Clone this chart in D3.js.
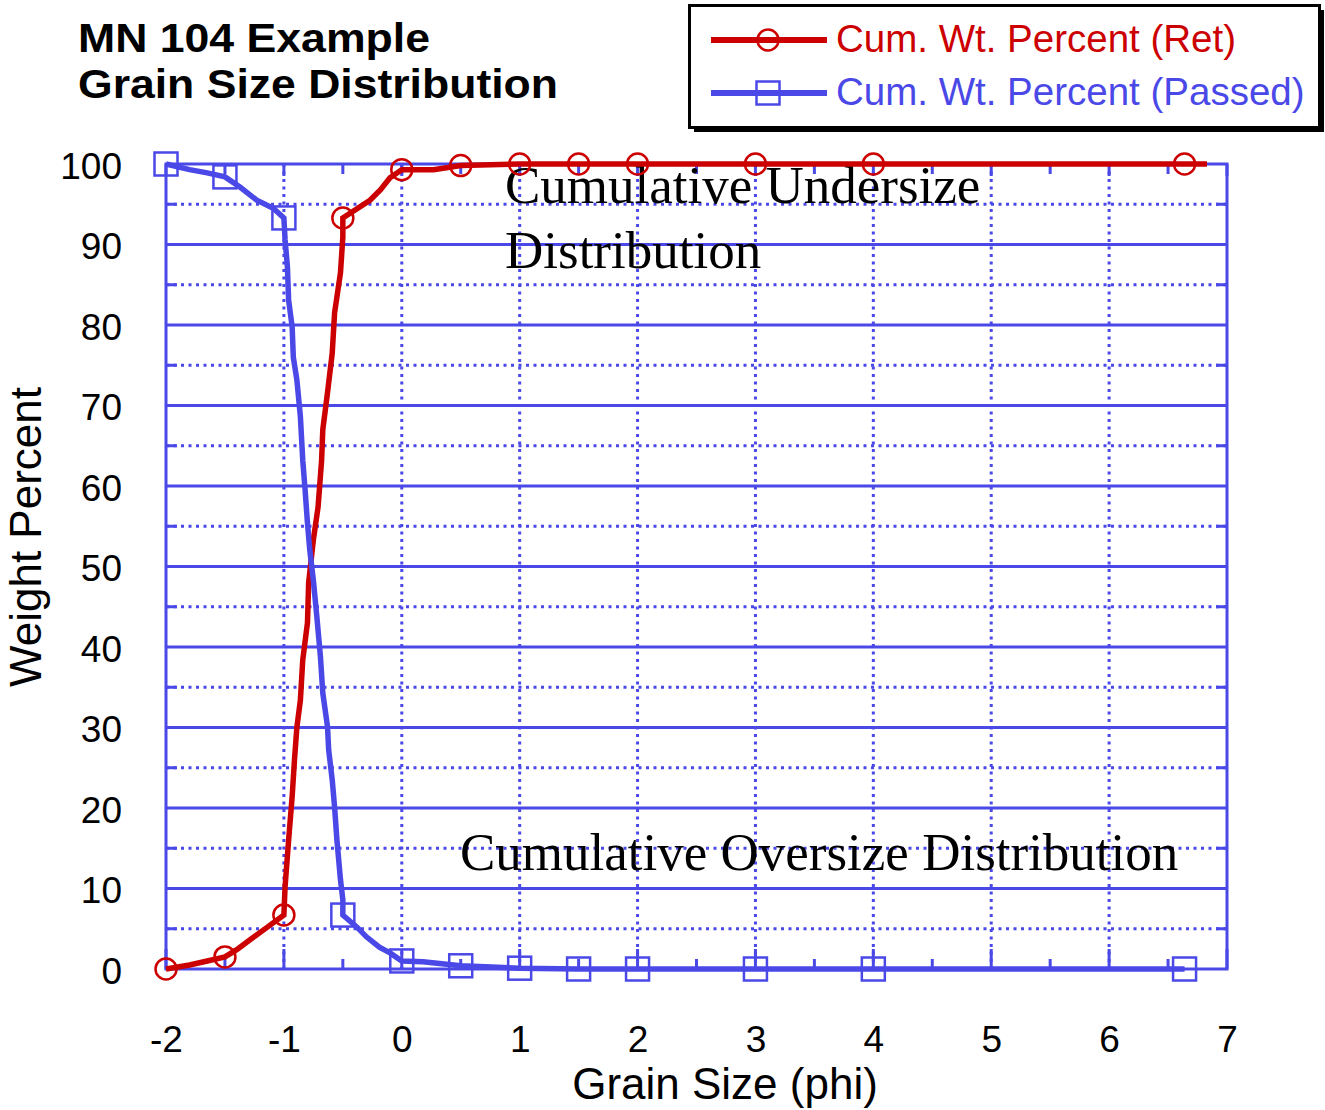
<!DOCTYPE html>
<html>
<head>
<meta charset="utf-8">
<script src="https://cdn.jsdelivr.net/npm/d3@7/dist/d3.min.js"></script>
<style>
  html, body { margin: 0; padding: 0; background: #ffffff; }
  svg { display: block; }
</style>
</head>
<body>
<script>
// ---------- data ----------
const xTicks = [-2, -1, 0, 1, 2, 3, 4, 5, 6, 7];
const xTickLabels = ["-2", "-1", "0", "1", "2", "3", "4", "5", "6", "7"];
const xHalfTicks = [-1.5, -0.5, 0.5, 1.5, 2.5, 3.5, 4.5, 5.5, 6.5];
const yTicks = [0, 10, 20, 30, 40, 50, 60, 70, 80, 90, 100];
const yTickLabels = ["0", "10", "20", "30", "40", "50", "60", "70", "80", "90", "100"];
const yMinorTicks = [5, 15, 25, 35, 45, 55, 65, 75, 85, 95];

// marker points (sieve sizes)
const markerPhi = [-2, -1.5, -1, -0.5, 0, 0.5, 1, 1.5, 2, 3, 4, 6.64];
const retMarkers = [0, 1.5, 6.7, 93.3, 99.3, 99.8, 100, 100, 100, 100, 100, 100];
const passMarkers = [100, 98.4, 93.3, 6.7, 1.0, 0.4, 0.1, 0, 0, 0, 0, 0];

// connecting line traces
const retLinePhi = [-2, -1.8, -1.65, -1.5, -1.4, -1.29, -1.14, -1.0, -0.99, -0.96, -0.93, -0.91, -0.89, -0.86, -0.84, -0.80, -0.79, -0.75, -0.71, -0.68, -0.67, -0.63, -0.59, -0.57, -0.52, -0.50, -0.5, -0.27, -0.18, -0.1, 0, 0.27, 0.5, 1, 1.5, 2, 3, 4, 6.64, 6.83];
const retLine    = [0, 0.5, 1.0, 1.5, 2.4, 3.6, 5.2, 6.7, 10.2, 16, 21.4, 26, 30, 33.4, 38.4, 43, 48, 53.3, 57.4, 63.2, 67, 71.6, 76.5, 81.5, 86.5, 90.9, 93.3, 95.5, 96.8, 98.3, 99.3, 99.3, 99.8, 100, 100, 100, 100, 100, 100, 100];

const passLinePhi = [-2, -1.8, -1.65, -1.5, -1.37, -1.23, -1.09, -1.0, -0.99, -0.97, -0.96, -0.93, -0.92, -0.89, -0.86, -0.84, -0.82, -0.80, -0.78, -0.75, -0.72, -0.69, -0.67, -0.63, -0.62, -0.59, -0.57, -0.55, -0.52, -0.50, -0.5, -0.38, -0.3, -0.19, -0.1, 0, 0.18, 0.5, 1, 1.5, 2, 3, 4, 6.64];
const passLine    = [100, 99.3, 98.9, 98.4, 97.1, 95.5, 94.5, 93.3, 90.6, 87.2, 83.1, 79.8, 76, 73.2, 68.6, 63.2, 59.5, 55.4, 52, 48.3, 43.7, 38.8, 34.3, 30.1, 27.2, 23.5, 20.1, 16, 11.1, 8.6, 6.7, 5.2, 4.0, 2.7, 2.0, 1.0, 0.9, 0.4, 0.1, 0, 0, 0, 0, 0];

const titleLines = ["MN 104 Example", "Grain Size Distribution"];
const legendLabels = ["Cum. Wt. Percent (Ret)", "Cum. Wt. Percent (Passed)"];
const xTitle = "Grain Size (phi)";
const yTitle = "Weight Percent";
const noteUnder = ["Cumulative Undersize", "Distribution"];
const noteOver = "Cumulative Oversize Distribution";

// ---------- styles ----------
const BLUE = "#4b48e8";
const RED = "#cc0000";
const SANS = "'Liberation Sans', Arial, Helvetica, sans-serif";
const SERIF = "'Liberation Serif', 'Times New Roman', serif";

const W = 1325, H = 1110;
const L = 166, R = 1227, T = 164, B = 969;

const svg = d3.select("body").append("svg").attr("width", W).attr("height", H);
svg.append("rect").attr("width", W).attr("height", H).attr("fill", "#fff");

const x = d3.scaleLinear().domain([-2, 7]).range([L, R]);
const y = d3.scaleLinear().domain([0, 100]).range([B, T]);

// ---------- grid ----------
const grid = svg.append("g");
grid.selectAll("line.hs").data(yTicks.filter(d => d > 0 && d < 100)).enter().append("line")
  .attr("x1", L).attr("x2", R).attr("y1", d => y(d)).attr("y2", d => y(d))
  .attr("stroke", BLUE).attr("stroke-width", 3);
grid.selectAll("line.hd").data(yMinorTicks).enter().append("line")
  .attr("x1", L).attr("x2", R).attr("y1", d => y(d)).attr("y2", d => y(d))
  .attr("stroke", BLUE).attr("stroke-width", 3).attr("stroke-dasharray", "3,4.5");
grid.selectAll("line.vd").data(xTicks.filter(d => d > -2 && d < 7)).enter().append("line")
  .attr("x1", d => x(d)).attr("x2", d => x(d)).attr("y1", T).attr("y2", B)
  .attr("stroke", BLUE).attr("stroke-width", 3).attr("stroke-dasharray", "3,4.5");

// ticks
const ticks = svg.append("g").attr("stroke", BLUE).attr("stroke-width", 3);
ticks.selectAll("line.bt").data(xTicks).enter().append("line")
  .attr("x1", d => x(d)).attr("x2", d => x(d)).attr("y1", B).attr("y2", B - 20);
ticks.selectAll("line.tt").data(xTicks).enter().append("line")
  .attr("x1", d => x(d)).attr("x2", d => x(d)).attr("y1", T).attr("y2", T + 12);
ticks.selectAll("line.bh").data(xHalfTicks).enter().append("line")
  .attr("x1", d => x(d)).attr("x2", d => x(d)).attr("y1", B).attr("y2", B - 10);
ticks.selectAll("line.th").data(xHalfTicks).enter().append("line")
  .attr("x1", d => x(d)).attr("x2", d => x(d)).attr("y1", T).attr("y2", T + 10);
ticks.selectAll("line.lm").data(yMinorTicks).enter().append("line")
  .attr("x1", L).attr("x2", L + 11).attr("y1", d => y(d)).attr("y2", d => y(d));
ticks.selectAll("line.rm").data(yMinorTicks).enter().append("line")
  .attr("x1", R).attr("x2", R - 11).attr("y1", d => y(d)).attr("y2", d => y(d));

// frame
svg.append("rect").attr("x", L).attr("y", T).attr("width", R - L).attr("height", B - T)
  .attr("fill", "none").attr("stroke", BLUE).attr("stroke-width", 3);

// ---------- axes labels ----------
const xAxis = svg.append("g").attr("transform", `translate(0,${B})`)
  .call(d3.axisBottom(x).tickValues(xTicks).tickFormat((d, i) => xTickLabels[i]).tickSize(0).tickPadding(0));
xAxis.select(".domain").remove();
xAxis.attr("font-family", SANS).attr("font-size", 37);
xAxis.selectAll("text").attr("y", 83).attr("dy", null).attr("fill", "#000");

const yAxis = svg.append("g").attr("transform", `translate(${L},0)`)
  .call(d3.axisLeft(y).tickValues(yTicks).tickFormat((d, i) => yTickLabels[i]).tickSize(0).tickPadding(44));
yAxis.select(".domain").remove();
yAxis.attr("font-family", SANS).attr("font-size", 37);
yAxis.selectAll("text").attr("dy", "0.38em").attr("fill", "#000");

svg.append("text").attr("x", 725).attr("y", 1099).attr("text-anchor", "middle")
  .attr("font-family", SANS).attr("font-size", 44).attr("fill", "#000").text(xTitle);
svg.append("text").attr("transform", "translate(41,537) rotate(-90)").attr("text-anchor", "middle")
  .attr("font-family", SANS).attr("font-size", 44).attr("fill", "#000").text(yTitle);

// ---------- title ----------
const titleWidths = [352, 480];
svg.append("g").selectAll("text").data(titleLines).enter().append("text")
  .attr("x", 78).attr("y", (d, i) => 52 + i * 46)
  .attr("font-family", SANS).attr("font-weight", "bold").attr("font-size", 40).attr("fill", "#000")
  .attr("textLength", (d, i) => titleWidths[i]).attr("lengthAdjust", "spacingAndGlyphs")
  .text(d => d);

// ---------- annotations ----------
const under = svg.append("text").attr("x", 505).attr("y", 203)
  .attr("font-family", SERIF).attr("font-size", 53).attr("fill", "#000");
under.selectAll("tspan").data(noteUnder).enter().append("tspan")
  .attr("x", 505).attr("dy", (d, i) => i === 0 ? 0 : 65).text(d => d);
svg.append("text").attr("x", 460).attr("y", 870)
  .attr("font-family", SERIF).attr("font-size", 53).attr("fill", "#000").text(noteOver);

// ---------- curves ----------
const line = d3.line().x(d => x(d[0])).y(d => y(d[1]));
const retPts = retLinePhi.map((p, i) => [p, retLine[i]]);
const passPts = passLinePhi.map((p, i) => [p, passLine[i]]);

svg.append("path").attr("d", line(retPts)).attr("fill", "none")
  .attr("stroke", RED).attr("stroke-width", 5.5).attr("stroke-linejoin", "miter");
svg.append("g").selectAll("circle").data(markerPhi).enter().append("circle")
  .attr("cx", d => x(d)).attr("cy", (d, i) => y(retMarkers[i])).attr("r", 10.5)
  .attr("fill", "none").attr("stroke", RED).attr("stroke-width", 2.5);

svg.append("path").attr("d", line(passPts)).attr("fill", "none")
  .attr("stroke", BLUE).attr("stroke-width", 5.5).attr("stroke-linejoin", "miter");
svg.append("g").selectAll("rect").data(markerPhi).enter().append("rect")
  .attr("x", d => x(d) - 11.5).attr("y", (d, i) => y(passMarkers[i]) - 11.5)
  .attr("width", 23).attr("height", 23)
  .attr("fill", "none").attr("stroke", BLUE).attr("stroke-width", 2.5);

// ---------- legend ----------
const lg = svg.append("g");
lg.append("rect").attr("x", 694).attr("y", 10).attr("width", 630).attr("height", 122).attr("fill", "#000");
lg.append("rect").attr("x", 689.5).attr("y", 5.5).attr("width", 630).attr("height", 122)
  .attr("fill", "#fff").attr("stroke", "#000").attr("stroke-width", 3);
const legendColors = [RED, BLUE];
const legendY = [40, 93];
legendLabels.forEach((lab, i) => {
  lg.append("line").attr("x1", 711).attr("x2", 827).attr("y1", legendY[i]).attr("y2", legendY[i])
    .attr("stroke", legendColors[i]).attr("stroke-width", 6);
  if (i === 0) {
    lg.append("circle").attr("cx", 768).attr("cy", legendY[i]).attr("r", 10.5)
      .attr("fill", "none").attr("stroke", RED).attr("stroke-width", 2.5);
  } else {
    lg.append("rect").attr("x", 756.5).attr("y", legendY[i] - 11.5).attr("width", 23).attr("height", 23)
      .attr("fill", "none").attr("stroke", BLUE).attr("stroke-width", 2.5);
  }
  lg.append("text").attr("x", 836).attr("y", legendY[i] + 12)
    .attr("font-family", SANS).attr("font-size", 38.5).attr("fill", legendColors[i]).text(lab);
});
</script>
</body>
</html>
